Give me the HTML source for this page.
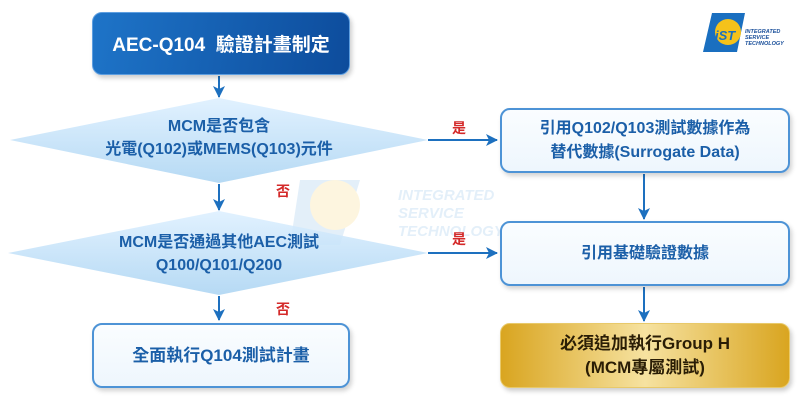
<!DOCTYPE html>
<html><head><meta charset="utf-8"><style>
body{margin:0;width:800px;height:400px;background:#fff;position:relative;overflow:hidden;font-family:"Liberation Sans","Noto Sans CJK TC",sans-serif}
.box{position:absolute;box-sizing:border-box;border-radius:10px;display:flex;align-items:center;justify-content:center;text-align:center;font-weight:bold}
.lt{background:linear-gradient(#fafdff,#eef6fd);border:2px solid #4d93d6;color:#1b5fa8;font-size:16px;line-height:24px;box-shadow:2px 3px 5px rgba(0,0,0,.18)}
.t{position:absolute;text-align:center;color:#1b5fa8;font-weight:bold;font-size:16px;line-height:23px}
.r{position:absolute;color:#d42a2a;font-size:14px;font-weight:bold}
</style></head><body>
<svg width="800" height="400" style="position:absolute;left:0;top:0">
<defs>
<linearGradient id="dg" x1="0" y1="0" x2="0" y2="1"><stop offset="0" stop-color="#dcefff"/><stop offset="1" stop-color="#a9d3f2"/></linearGradient>
<marker id="a" markerWidth="12" markerHeight="12" refX="11" refY="6" orient="auto" markerUnits="userSpaceOnUse"><path d="M0,0 L12,6 L0,12 L3,6z" fill="#1d70bf"/></marker>
</defs>
<g opacity="0.16">
<path d="M300,180 L360,180 L340,245 L290,245 Z" fill="#5aa0dc"/>
<circle cx="335" cy="205" r="25" fill="#f5c542"/>
<text x="398" y="200" font-family="Liberation Sans" font-weight="bold" font-style="italic" font-size="15" fill="#5aa0dc">INTEGRATED</text>
<text x="398" y="218" font-family="Liberation Sans" font-weight="bold" font-style="italic" font-size="15" fill="#5aa0dc">SERVICE</text>
<text x="398" y="236" font-family="Liberation Sans" font-weight="bold" font-style="italic" font-size="15" fill="#5aa0dc">TECHNOLOGY</text>
</g>
<polygon points="219,98 428,140 219,183 10,140" fill="url(#dg)" opacity="0.85"/>
<polygon points="219,211 428,253 219,295 8,253" fill="url(#dg)" opacity="0.85"/>
<g stroke="#1d70bf" stroke-width="2" fill="none" marker-end="url(#a)">
<line x1="219" y1="76" x2="219" y2="97"/>
<line x1="219" y1="184" x2="219" y2="210"/>
<line x1="219" y1="296" x2="219" y2="320"/>
<line x1="428" y1="140" x2="497" y2="140"/>
<line x1="428" y1="253" x2="497" y2="253"/>
<line x1="644" y1="174" x2="644" y2="219"/>
<line x1="644" y1="287" x2="644" y2="321"/>
</g>
<path d="M712,13 L745,13 L737,52 L703,52 Z" fill="#1a6fc0"/>
<circle cx="728" cy="32" r="13" fill="#f5c21b"/>
<text x="715" y="40" font-family="Liberation Sans" font-weight="bold" font-style="italic" font-size="13" fill="#1a6fc0">iST</text>
<g font-family="Liberation Sans" font-weight="bold" font-style="italic" font-size="5.5" fill="#1a4f9a">
<text x="745" y="33">INTEGRATED</text><text x="745" y="39">SERVICE</text><text x="745" y="45">TECHNOLOGY</text></g>
</svg>
<div class="box" style="left:92px;top:12px;width:258px;height:63px;background:linear-gradient(100deg,#1e74c8,#0d4c9c);color:#fff;font-size:19px;border:1px solid #5d9ee0;box-shadow:2px 3px 5px rgba(0,0,0,.2)">AEC-Q104&nbsp; 驗證計畫制定</div>
<div class="t" style="left:40px;top:115px;width:358px">MCM是否包含<br>光電(Q102)或MEMS(Q103)元件</div>
<div class="t" style="left:40px;top:231px;width:358px">MCM是否通過其他AEC測試<br>Q100/Q101/Q200</div>
<div class="r" style="left:452px;top:118px">是</div>
<div class="r" style="left:452px;top:229px">是</div>
<div class="r" style="left:276px;top:181px">否</div>
<div class="r" style="left:276px;top:299px">否</div>
<div class="box lt" style="left:500px;top:108px;width:290px;height:65px">引用Q102/Q103測試數據作為<br>替代數據(Surrogate Data)</div>
<div class="box lt" style="left:500px;top:221px;width:290px;height:65px">引用基礎驗證數據</div>
<div class="box lt" style="left:92px;top:323px;width:258px;height:65px;font-size:17px">全面執行Q104測試計畫</div>
<div class="box" style="left:500px;top:323px;width:290px;height:65px;background:linear-gradient(90deg,#d9a520,#f6e2a0 50%,#d9a520);border:1px solid #e8c96a;color:#2a1d05;font-size:17px;line-height:24px;box-shadow:2px 3px 5px rgba(0,0,0,.2)">必須追加執行Group H<br>(MCM專屬測試)</div>
</body></html>
